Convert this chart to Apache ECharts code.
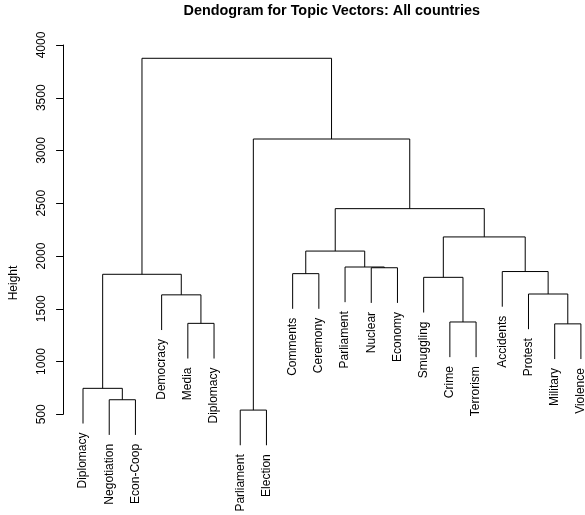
<!DOCTYPE html>
<html>
<head>
<meta charset="utf-8">
<script src="https://cdn.jsdelivr.net/npm/echarts@6/dist/echarts.min.js"></script>
<style>
  html, body { margin: 0; padding: 0; background: #ffffff; }
  #chart { width: 585px; height: 515px; }
</style>
</head>
<body>
<div id="chart"></div>
<script>
// Leaves in plotting order (left to right)
const leafLabels = [
  'Diplomacy', 'Negotiation', 'Econ-Coop', 'Democracy', 'Media', 'Diplomacy',
  'Parliament', 'Election', 'Comments', 'Ceremony', 'Parliament', 'Nuclear',
  'Economy', 'Smuggling', 'Crime', 'Terrorism', 'Accidents', 'Protest',
  'Military', 'Violence'
];

// hclust-style merge table: negative = leaf number, positive = earlier merge row
const mergePairs = [
  [-7, -8], [-2, -3], [-1, 2], [-19, -20], [-5, -6], [-15, -16], [-4, 5],
  [-18, 4], [-14, 6], [3, 7], [-9, -10], [-17, 8], [-12, -13], [-11, 13],
  [11, 14], [9, 12], [15, 16], [1, 17], [10, 18]
];

// Height at which each merge happens
const mergeHeights = [
  540, 638, 746, 1357, 1362, 1375, 1632,
  1640, 1798, 1827, 1833, 1853, 1889, 1896,
  2047, 2181, 2449, 3109, 3874
];

// Height axis ticks
const heightTicks = [500, 1000, 1500, 2000, 2500, 3000, 3500, 4000];

const FONT = "'Liberation Sans', Arial, Helvetica, sans-serif";

// Leaves hang below their parent by a tenth of the height range
const hang = 0.1 * (Math.max(...mergeHeights) - Math.min(...mergeHeights));

const nodeX = [];
const segments = [];
const leafEnds = [];
const childX = c => (c < 0 ? -c : nodeX[c - 1]);

mergePairs.forEach(([a, b], i) => {
  const h = mergeHeights[i];
  const xa = childX(a), xb = childX(b);
  const ha = a < 0 ? h - hang : mergeHeights[a - 1];
  const hb = b < 0 ? h - hang : mergeHeights[b - 1];
  if (a < 0) leafEnds.push([-a, ha, leafLabels[-a - 1]]);
  if (b < 0) leafEnds.push([-b, hb, leafLabels[-b - 1]]);
  segments.push([xa, ha, xa, h]);
  segments.push([xa, h, xb, h]);
  segments.push([xb, h, xb, hb]);
  nodeX[i] = (xa + xb) / 2;
});

const n = leafLabels.length;
const pad = 0.04 * (n - 1);
// The plot region runs past the right edge of the page; only this share of it is visible
const visibleShare = 0.9706;
const xMin = 1 - pad;
const xMax = xMin + (n - 1 + 2 * pad) * visibleShare;

const chart = echarts.init(document.getElementById('chart'), null, { renderer: 'canvas' });

chart.setOption({
  animation: false,
  backgroundColor: '#ffffff',
  title: {
    text: 'Dendogram for Topic Vectors: All countries',
    left: 331.7,
    top: 4,
    textAlign: 'center',
    padding: 0,
    textStyle: { fontFamily: FONT, fontSize: 14.4, fontWeight: 'bold', color: '#000' }
  },
  graphic: [{
    type: 'text',
    x: 13.5,
    y: 283,
    rotation: Math.PI / 2,
    style: {
      text: 'Height',
      font: '12px ' + FONT,
      fill: '#000',
      align: 'center',
      verticalAlign: 'middle'
    }
  }],
  grid: { left: 63.1, right: 0, top: 45, height: 369.3, containLabel: false },
  xAxis: {
    type: 'value',
    min: xMin,
    max: xMax,
    show: false
  },
  yAxis: {
    type: 'value',
    min: heightTicks[0],
    max: heightTicks[heightTicks.length - 1],
    interval: heightTicks[1] - heightTicks[0],
    axisLine: { show: true, lineStyle: { color: '#000', width: 1 } },
    axisTick: { show: true, inside: false, length: 7, lineStyle: { color: '#000', width: 1 } },
    axisLabel: {
      rotate: 90,
      margin: 15,
      color: '#000',
      fontFamily: FONT,
      fontSize: 12,
      formatter: v => String(v)
    },
    splitLine: { show: false }
  },
  series: [
    {
      type: 'custom',
      clip: false,
      silent: true,
      data: segments,
      encode: { x: [0, 2], y: [1, 3] },
      renderItem: (params, api) => {
        const p1 = api.coord([api.value(0), api.value(1)]);
        const p2 = api.coord([api.value(2), api.value(3)]);
        return {
          type: 'line',
          shape: { x1: p1[0], y1: p1[1], x2: p2[0], y2: p2[1] },
          style: { stroke: '#000', lineWidth: 1 }
        };
      }
    },
    {
      type: 'custom',
      clip: false,
      silent: true,
      data: leafEnds,
      encode: { x: 0, y: 1 },
      renderItem: (params, api) => {
        const p = api.coord([api.value(0), api.value(1)]);
        return {
          type: 'text',
          x: p[0],
          y: p[1] + 9,
          rotation: Math.PI / 2,
          style: {
            text: leafEnds[params.dataIndex][2],
            font: '12px ' + FONT,
            fill: '#000',
            align: 'right',
            verticalAlign: 'middle'
          }
        };
      }
    }
  ]
});
</script>
</body>
</html>
